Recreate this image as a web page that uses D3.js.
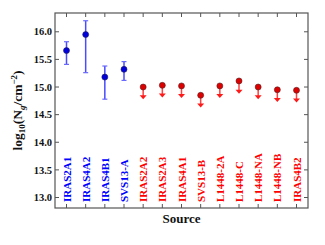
<!DOCTYPE html>
<html>
<head>
<meta charset="utf-8">
<script src="https://cdn.jsdelivr.net/npm/d3@7"></script>
<style>
body{margin:0;background:#fff}
text{font-family:"Liberation Serif","DejaVu Serif",serif;font-weight:bold}
</style>
</head>
<body>
<svg id="chart" width="325" height="245"></svg>
<script>
// 데이터
var sources = ["IRAS2A1","IRAS4A2","IRAS4B1","SVS13-A","IRAS2A2","IRAS2A3","IRAS4A1","SVS13-B","L1448-2A","L1448-C","L1448-NA","L1448-NB","IRAS4B2"]
var detected = [true,true,true,true,false,false,false,false,false,false,false,false,false]
var logN = [15.66,15.95,15.18,15.32,15.00,15.03,15.02,14.85,15.02,15.11,15.00,14.95,14.94]
var errHi = [15.82,16.20,15.38,15.46,null,null,null,null,null,null,null,null,null]
var errLo = [15.41,15.26,14.78,15.12,null,null,null,null,null,null,null,null,null]
var arrowTo = [null,null,null,null,14.78,14.81,14.80,14.63,14.80,14.88,14.78,14.73,14.72]
var yTicks = [13.0,13.5,14.0,14.5,15.0,15.5,16.0]

var svg = d3.select("#chart")
var m = {left:55, right:308, top:13, bottom:208}

var x = d3.scaleLinear().domain([-0.6, sources.length-1+0.6]).range([m.left,m.right])
var y = d3.scaleLinear().domain([12.81,16.34]).range([m.bottom,m.top])

var g = svg.append("g")

// 축 틱 (안쪽으로)
var xl = sources.map(function(d,i){return i})
g.selectAll(".tb").data(xl).enter().append("line")
  .attr("x1",function(d){return x(d)}).attr("x2",function(d){return x(d)})
  .attr("y1",m.bottom).attr("y2",m.bottom-4).attr("stroke","#555")
g.selectAll(".tt").data(xl).enter().append("line")
  .attr("x1",function(d){return x(d)}).attr("x2",function(d){return x(d)})
  .attr("y1",m.top).attr("y2",m.top+4).attr("stroke","#555")
g.selectAll(".tl").data(yTicks).enter().append("line")
  .attr("x1",m.left).attr("x2",m.left+4)
  .attr("y1",function(d){return y(d)}).attr("y2",function(d){return y(d)}).attr("stroke","#555")
g.selectAll(".tr").data(yTicks).enter().append("line")
  .attr("x1",m.right).attr("x2",m.right-4)
  .attr("y1",function(d){return y(d)}).attr("y2",function(d){return y(d)}).attr("stroke","#555")

g.append("rect").attr("x",m.left).attr("y",m.top).attr("width",m.right-m.left).attr("height",m.bottom-m.top)
  .attr("fill","none").attr("stroke","#555").attr("stroke-width",1.2)

// y 틱 라벨
g.selectAll(".yl").data(yTicks).enter().append("text")
  .attr("x",m.left-3).attr("y",function(d){return y(d)+3.7})
  .attr("text-anchor","end").attr("font-size",10.5).attr("fill","#111")
  .text(function(d){return d.toFixed(1)})

// 소스 라벨 (세로, 플롯 안쪽)
g.selectAll(".sl").data(sources).enter().append("text")
  .attr("transform",function(d,i){return "translate("+(x(i)+4)+","+(m.bottom-6)+") rotate(-90)"})
  .attr("font-size",11).attr("fill",function(d,i){return detected[i]?"#0000ff":"#ff0000"})
  .text(function(d){return d})

// 에러바
sources.forEach(function(s,i){
  var cx = x(i)
  if(detected[i]){
    g.append("line").attr("x1",cx).attr("x2",cx).attr("y1",y(errLo[i])).attr("y2",y(errHi[i]))
      .attr("stroke","#4a4aff").attr("stroke-width",1.5)
    ;[errLo[i],errHi[i]].forEach(function(v){
      g.append("line").attr("x1",cx-2.5).attr("x2",cx+2.5).attr("y1",y(v)).attr("y2",y(v))
        .attr("stroke","#6a6aff").attr("stroke-width",1.2)
    })
    g.append("circle").attr("cx",cx).attr("cy",y(logN[i])).attr("r",3)
      .attr("fill","#0000dd").attr("stroke","#222055").attr("stroke-width",0.6)
  }else{
    var tip = y(arrowTo[i])
    g.append("line").attr("x1",cx).attr("x2",cx).attr("y1",y(logN[i])).attr("y2",tip-3)
      .attr("stroke","#ff4040").attr("stroke-width",1.5)
    g.append("path").attr("d","M"+(cx-3.5)+","+(tip-4)+"L"+(cx+3.5)+","+(tip-4)+"L"+cx+","+tip+"Z")
      .attr("fill","#ff1a1a")
    g.append("circle").attr("cx",cx).attr("cy",y(logN[i])).attr("r",3)
      .attr("fill","#dd0000").attr("stroke","#552020").attr("stroke-width",0.6)
  }
})

// 축 제목
svg.append("text").attr("x",(m.left+m.right)/2).attr("y",223).attr("text-anchor","middle")
  .attr("font-size",13).attr("fill","#111").text("Source")

var yt = svg.append("text").attr("transform","translate(22,"+((m.top+m.bottom)/2)+") rotate(-90)")
  .attr("text-anchor","middle").attr("font-size",13.5).attr("fill","#111")
yt.append("tspan").text("log")
yt.append("tspan").attr("font-size",9).attr("dy",3).text("10")
yt.append("tspan").attr("dy",-3).text("(N")
yt.append("tspan").attr("font-size",9).attr("font-style","italic").attr("dy",3).text("g")
yt.append("tspan").attr("dy",-3).text("/cm")
yt.append("tspan").attr("font-size",9).attr("dy",-5.5).text("−2")
yt.append("tspan").attr("dy",5.5).text(")")
</script>
</body>
</html>
